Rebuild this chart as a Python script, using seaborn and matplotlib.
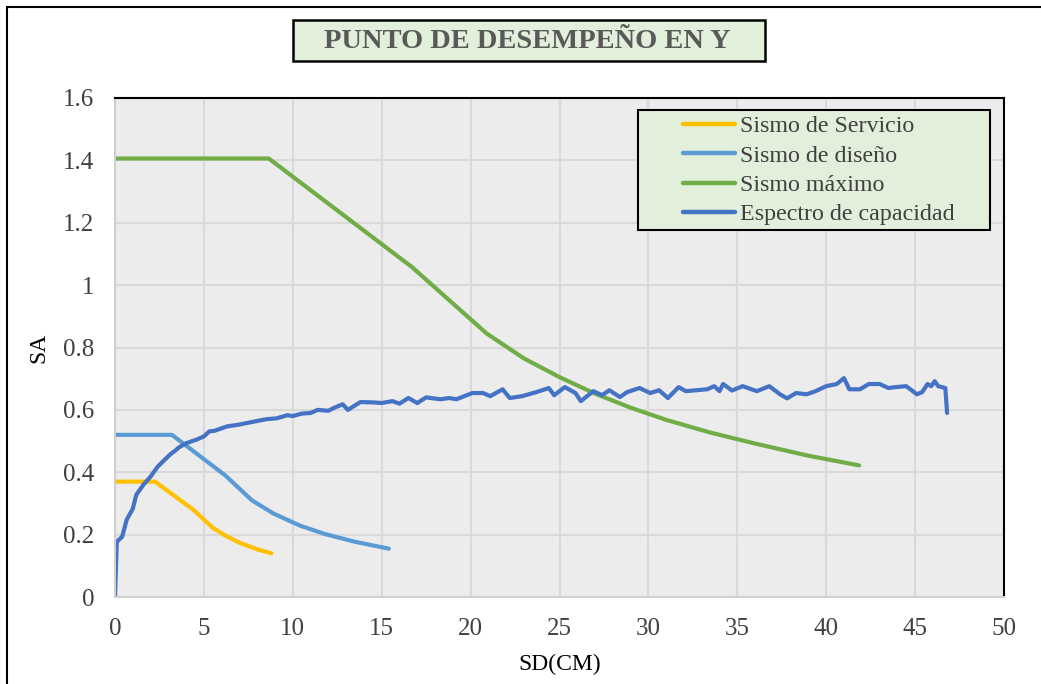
import matplotlib
matplotlib.use("Agg")
import matplotlib.pyplot as plt
from matplotlib.patches import Rectangle
import seaborn as sns
import pandas as pd

# ---- data -------------------------------------------------------------
servicio_sd = [0, 2.25, 4.4, 5.5, 6.2, 7.0, 8.0, 8.8]
servicio_sa = [0.37, 0.37, 0.28, 0.222, 0.197, 0.174, 0.153, 0.14]

diseno_sd = [0, 3.2, 6.2, 7.7, 8.9, 10.4, 11.8, 13.5, 15.4]
diseno_sa = [0.52, 0.52, 0.39, 0.31, 0.268, 0.229, 0.202, 0.177, 0.155]

maximo_sd = [0, 8.65, 16.7, 20.9, 23.0, 25.0, 27.0, 29.0, 31.0, 33.5, 36.0, 39.0, 41.85]
maximo_sa = [1.406, 1.406, 1.058, 0.845, 0.765, 0.705, 0.652, 0.607, 0.568, 0.527, 0.492, 0.453, 0.422]

capacidad_sd = [0, 0.1, 0.4, 0.66, 1.0, 1.2, 1.6, 2.0, 2.4, 3.1, 3.4, 3.6, 4.0, 4.6,
                5.0, 5.3, 5.6, 6.3, 7.0, 7.6, 8.5, 9.1, 9.7, 10.0, 10.5, 11.0, 11.4,
                12.0, 12.3, 12.8, 13.1, 13.8, 14.5, 15.0, 15.6, 16.0, 16.5, 17.0, 17.5,
                18.3, 18.8, 19.2, 20.1, 20.7, 21.1, 21.8, 22.2, 22.9, 23.7, 24.4, 24.7,
                25.3, 25.9, 26.2, 26.9, 27.4, 27.8, 28.4, 28.8, 29.5, 30.1, 30.6, 31.1,
                31.7, 32.1, 33.3, 33.7, 34.0, 34.2, 34.7, 35.3, 36.1, 36.8, 37.4, 37.8,
                38.3, 38.9, 39.4, 40.0, 40.6, 41.0, 41.3, 41.9, 42.4, 43.0, 43.5, 43.9,
                44.5, 45.1, 45.4, 45.7, 45.9, 46.1, 46.3, 46.7, 46.8]
capacidad_sa = [0, 0.177, 0.193, 0.248, 0.283, 0.328, 0.36, 0.386, 0.418, 0.457, 0.47, 0.48, 0.493, 0.505,
                0.515, 0.531, 0.533, 0.547, 0.553, 0.56, 0.57, 0.573, 0.583, 0.58, 0.588, 0.59, 0.6,
                0.597, 0.606, 0.618, 0.6, 0.625, 0.624, 0.622, 0.628, 0.62, 0.638, 0.622, 0.64,
                0.634, 0.638, 0.634, 0.654, 0.654, 0.644, 0.666, 0.638, 0.644, 0.657, 0.67, 0.647,
                0.673, 0.654, 0.628, 0.66, 0.647, 0.663, 0.641, 0.657, 0.67, 0.654, 0.663, 0.638,
                0.673, 0.66, 0.666, 0.676, 0.66, 0.683, 0.662, 0.676, 0.66, 0.676, 0.65, 0.637,
                0.654, 0.65, 0.66, 0.676, 0.683, 0.702, 0.666, 0.666, 0.683, 0.683, 0.67, 0.673,
                0.676, 0.65, 0.657, 0.683, 0.676, 0.692, 0.676, 0.67, 0.59]

series_names = ["Sismo de Servicio", "Sismo de diseño", "Sismo máximo", "Espectro de capacidad"]
series_colors = ["#FFC000", "#5B9BD5", "#70AD47", "#4472C4"]

x_ticks = [0, 5, 10, 15, 20, 25, 30, 35, 40, 45, 50]
y_ticks = [0, 0.2, 0.4, 0.6, 0.8, 1, 1.2, 1.4, 1.6]
y_tick_labels = ["0", "0.2", "0.4", "0.6", "0.8", "1", "1.2", "1.4", "1.6"]

# ---- long-form table ----------------------------------------------------
frames = []
for name, sd, sa in zip(series_names,
                        [servicio_sd, diseno_sd, maximo_sd, capacidad_sd],
                        [servicio_sa, diseno_sa, maximo_sa, capacidad_sa]):
    frames.append(pd.DataFrame({"SD": sd, "SA": sa, "serie": name}))
df = pd.concat(frames, ignore_index=True)

# ---- figure -------------------------------------------------------------
sns.set_theme(style="white")
plt.rcParams["font.family"] = ["Liberation Serif", "DejaVu Serif"]

W, H = 1041, 684
fig = plt.figure(figsize=(W / 100, H / 100), dpi=100)
fig.patch.set_facecolor("white")

def fx(px):
    return px / W

def fy(py):
    return 1 - py / H

ax = fig.add_axes([fx(115), fy(597), fx(1004) - fx(115), fy(98) - fy(597)])
ax.set_facecolor("#ECECEC")

sns.lineplot(data=df, x="SD", y="SA", hue="serie", hue_order=series_names,
             palette=dict(zip(series_names, series_colors)),
             sort=False, estimator=None, linewidth=3.0, ax=ax,
             solid_capstyle="round", solid_joinstyle="round")

ax.set_xlim(0, 50)
ax.set_ylim(0, 1.6)
ax.set_xticks(x_ticks)
ax.set_xticklabels([str(t) for t in x_ticks])
ax.set_yticks(y_ticks)
ax.set_yticklabels(y_tick_labels)
ax.tick_params(axis="both", length=0, labelsize=18, colors="#404040")
ax.tick_params(axis="y", pad=15)
ax.tick_params(axis="x", pad=15)
ax.grid(True, color="#D9D9D9", linewidth=1.5)
ax.set_axisbelow(True)

for side in ("top", "right"):
    ax.spines[side].set_color("black")
    ax.spines[side].set_linewidth(1.5)
for side in ("left", "bottom"):
    ax.spines[side].set_color("#D0D0D0")
    ax.spines[side].set_linewidth(1.5)

ax.set_xlabel("SD(CM)", fontsize=17, color="black", labelpad=10)
ax.set_ylabel("SA", fontsize=17, color="black", labelpad=10)

# legend: green box with the entries set inside it
fig.patches.append(Rectangle((fx(638), fy(230)), fx(990) - fx(638), fy(110) - fy(230),
                             transform=fig.transFigure, facecolor="#E2EFDA",
                             edgecolor="black", linewidth=1.5, zorder=3))
handles, labels = ax.get_legend_handles_labels()
if ax.get_legend() is not None:
    ax.get_legend().remove()
leg = fig.legend(handles, labels, loc="upper left",
                 bbox_to_anchor=(fx(679), fy(112)),
                 fontsize=17.3, frameon=False, borderpad=0.15,
                 handlelength=2.2, handletextpad=0.2, labelspacing=0.31,
                 borderaxespad=0, labelcolor="#404040")
leg.set_zorder(4)
for line in leg.get_lines():
    line.set_linewidth(3.2)

# title box
fig.patches.append(Rectangle((fx(293), fy(61)), fx(765) - fx(293), fy(20) - fy(61),
                             transform=fig.transFigure, facecolor="#E2EFDA",
                             edgecolor="black", linewidth=1.8, zorder=1))
fig.text(fx(527), fy(42), "PUNTO DE DESEMPEÑO EN Y", ha="center", va="center",
         fontsize=20.5, fontweight="bold", color="#595959", zorder=2)

# outer chart frame
fig.patches.append(Rectangle((fx(7), fy(H + 10)), fx(W + 20), fy(7) - fy(H + 10),
                             transform=fig.transFigure, facecolor="none",
                             edgecolor="black", linewidth=1.5, zorder=0))

fig.savefig("out.png", dpi=100)
